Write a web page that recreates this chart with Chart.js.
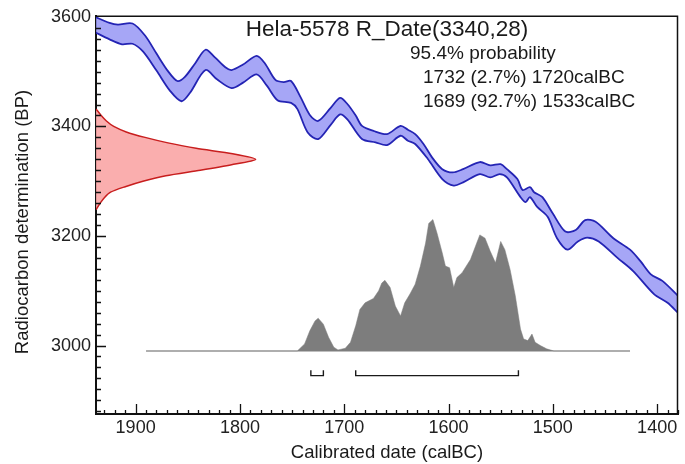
<!DOCTYPE html>
<html>
<head>
<meta charset="utf-8">
<script src="https://cdn.jsdelivr.net/npm/chart.js@4.4.1/dist/chart.umd.min.js"></script>
<style>
html, body { margin: 0; padding: 0; background: #fff; }
canvas { display: block; }
</style>
</head>
<body>
<canvas id="cal" width="685" height="464"></canvas>
<script>
// calibration curve, upper and lower edge of the 1 sigma band
const upperYears = [1940, 1925, 1917, 1903, 1891, 1880, 1869, 1860, 1853, 1843, 1833, 1824, 1814, 1808, 1797, 1784, 1776, 1766, 1758, 1751, 1742, 1733, 1725, 1713, 1704, 1697, 1689, 1683, 1672, 1659, 1646, 1639, 1632, 1624, 1616, 1606, 1596, 1586, 1570, 1560, 1550, 1544, 1534, 1529, 1522, 1518, 1510, 1500, 1488, 1478, 1469, 1459, 1442, 1426, 1416, 1406, 1395, 1379, 1374];
const upperBP = [3601, 3589, 3586, 3588, 3566, 3533, 3501, 3483, 3490, 3515, 3540, 3526, 3508, 3503, 3513, 3529, 3515, 3485, 3481, 3483, 3454, 3421, 3410, 3434, 3452, 3441, 3420, 3401, 3392, 3386, 3401, 3394, 3386, 3368, 3344, 3322, 3316, 3322, 3335, 3329, 3331, 3322, 3304, 3284, 3289, 3280, 3271, 3241, 3208, 3211, 3229, 3226, 3196, 3175, 3154, 3130, 3118, 3089, 3080];
const lowerYears = [1940, 1925, 1913, 1903, 1893, 1880, 1867, 1856, 1848, 1833, 1822, 1808, 1797, 1784, 1774, 1764, 1751, 1745, 1735, 1725, 1713, 1704, 1697, 1683, 1670, 1659, 1646, 1639, 1632, 1620, 1606, 1595, 1586, 1570, 1560, 1551, 1544, 1531, 1526, 1522, 1515, 1505, 1496, 1486, 1476, 1467, 1456, 1438, 1423, 1403, 1390, 1379, 1374];
const lowerBP = [3573, 3559, 3550, 3551, 3537, 3502, 3465, 3446, 3461, 3503, 3486, 3470, 3480, 3495, 3474, 3448, 3443, 3432, 3389, 3377, 3403, 3422, 3413, 3377, 3371, 3366, 3383, 3374, 3368, 3341, 3304, 3292, 3298, 3313, 3307, 3313, 3307, 3271, 3262, 3271, 3253, 3235, 3196, 3175, 3190, 3197, 3190, 3160, 3136, 3094, 3078, 3058, 3050];

// radiocarbon measurement 3340 +- 28 (drawn on the y axis)
const measBP = [3432, 3420, 3410, 3400, 3390, 3380, 3370, 3360, 3350, 3340, 3330, 3320, 3310, 3300, 3290, 3280, 3270, 3260, 3248];
const measYears = [1938, 1933, 1928, 1921, 1909, 1891, 1869, 1842, 1807, 1785, 1808, 1838, 1871, 1893, 1910, 1924, 1930, 1934, 1938];

// calibrated distribution
const distBase = 2990;
const distYears = [1890, 1745, 1738, 1733, 1728, 1725, 1720, 1715, 1710, 1706, 1699, 1694, 1689, 1685, 1680, 1672, 1667, 1664, 1661, 1656, 1651, 1646, 1642, 1637, 1632, 1627, 1622, 1619, 1615, 1611, 1606, 1603, 1599, 1595, 1592, 1587, 1579, 1573, 1570, 1565, 1560, 1555, 1550, 1546, 1541, 1536, 1531, 1528, 1524, 1520, 1517, 1512, 1506, 1499, 1426];
const distBP = [2990, 2990, 3003, 3027, 3045, 3050, 3039, 3015, 2997, 2992, 2995, 3006, 3036, 3066, 3078, 3086, 3100, 3114, 3119, 3106, 3072, 3054, 3078, 3094, 3112, 3145, 3187, 3223, 3230, 3205, 3169, 3145, 3142, 3106, 3124, 3133, 3157, 3187, 3202, 3196, 3172, 3151, 3190, 3175, 3139, 3091, 3030, 3012, 3009, 3021, 3006, 3000, 2994, 2990, 2990];

// 95.4% ranges
const rangeFrom = [1732, 1689];
const rangeTo = [1720, 1533];
const rangeBP = 2945;
const rangeTick = 2955;

const xTicks = [1900, 1800, 1700, 1600, 1500, 1400];
const yTicks = [3600, 3400, 3200, 3000];

const titleText = 'Hela-5578 R_Date(3340,28)';
const probLines = ['95.4% probability', '1732 (2.7%) 1720calBC', '1689 (92.7%) 1533calBC'];

const FONT = '"Liberation Sans", Arial, sans-serif';

function pts(xs, ys) {
    return xs.map((v, i) => ({x: v, y: ys[i]}));
}

const datasets = [
    {
        label: 'upper',
        data: pts(upperYears, upperBP),
        borderColor: '#2424b4',
        borderWidth: 1.8,
        tension: 0.3,
        fill: false
    },
    {
        label: 'lower',
        data: pts(lowerYears, lowerBP),
        borderColor: '#2424b4',
        borderWidth: 1.8,
        tension: 0.3,
        fill: '-1',
        backgroundColor: 'rgba(150,150,245,0.85)'
    },
    {
        label: 'R_Date',
        data: pts(measYears, measBP),
        borderColor: '#c81e1e',
        borderWidth: 1.5,
        tension: 0.25,
        fill: 'shape',
        backgroundColor: 'rgba(250,165,165,0.9)'
    },
    {
        label: 'dist',
        data: pts(distYears, distBP),
        borderColor: '#7d7d7d',
        borderWidth: 0.5,
        tension: 0,
        fill: {target: {value: distBase}},
        backgroundColor: '#7d7d7d'
    },
    {
        label: 'base',
        data: pts([distYears[0], distYears[distYears.length - 1]], [distBase, distBase]),
        borderColor: '#a8a8a8',
        borderWidth: 1.5,
        fill: false
    }
];

rangeFrom.forEach(function (from, i) {
    datasets.push({
        label: 'range' + i,
        data: pts([from, from, rangeTo[i], rangeTo[i]], [rangeTick, rangeBP, rangeBP, rangeTick]),
        borderColor: '#1a1a1a',
        borderWidth: 1.4,
        fill: false
    });
});

const oxcalFrame = {
    id: 'oxcalFrame',
    afterDatasetsDraw(chart) {
        const {ctx, chartArea: a} = chart;
        const x = chart.scales.x;
        const y = chart.scales.y;
        ctx.save();
        ctx.strokeStyle = '#111';
        ctx.lineWidth = 1.5;
        ctx.beginPath();
        ctx.moveTo(a.left, a.top + 0.5);
        ctx.lineTo(a.right - 0.5, a.top + 0.5);
        ctx.lineTo(a.right - 0.5, a.bottom);
        ctx.stroke();

        ctx.lineWidth = 1.3;
        ctx.beginPath();
        for (let yr = 1930; yr >= 1380; yr -= 10) {
            const px = Math.round(x.getPixelForValue(yr)) + 0.5;
            const len = yr % 100 === 0 ? 10 : 4;
            ctx.moveTo(px, a.bottom);
            ctx.lineTo(px, a.bottom - len);
        }
        for (let bp = 2880; bp <= 3580; bp += 20) {
            const py = Math.round(y.getPixelForValue(bp)) + 0.5;
            const len = bp % 200 === 0 ? 10 : 5;
            ctx.moveTo(a.left, py);
            ctx.lineTo(a.left + len, py);
        }
        ctx.stroke();
        ctx.restore();
    },
    afterDraw(chart) {
        const {ctx, chartArea: a} = chart;
        ctx.save();
        ctx.fillStyle = '#1a1a1a';
        ctx.textBaseline = 'alphabetic';

        ctx.font = '22.5px ' + FONT;
        ctx.textAlign = 'center';
        ctx.fillText(titleText, (a.left + a.right) / 2, 36);

        ctx.font = '19px ' + FONT;
        ctx.textAlign = 'left';
        ctx.fillText(probLines[0], 410, 58.5);
        ctx.fillText(probLines[1], 423, 82.5);
        ctx.fillText(probLines[2], 423, 107);

        // axis titles
        ctx.font = '18.5px ' + FONT;
        ctx.textAlign = 'center';
        ctx.fillText('Calibrated date (calBC)', (a.left + a.right) / 2, 458);

        ctx.translate(28, 222);
        ctx.rotate(-Math.PI / 2);
        ctx.fillText('Radiocarbon determination (BP)', 0, 0);
        ctx.restore();
    }
};

new Chart(document.getElementById('cal'), {
    type: 'line',
    data: {datasets: datasets},
    options: {
        responsive: false,
        animation: false,
        devicePixelRatio: 1,
        layout: {padding: {left: 0, top: 12, right: 7, bottom: 0}},
        elements: {point: {radius: 0, hoverRadius: 0}},
        plugins: {
            legend: {display: false},
            tooltip: {enabled: false}
        },
        scales: {
            x: {
                type: 'linear',
                min: 1380,
                max: 1938,
                reverse: true,
                grid: {display: false, drawTicks: false},
                border: {display: true, color: '#111', width: 2},
                ticks: {
                    autoSkip: false,
                    maxRotation: 0,
                    padding: 3,
                    color: '#222',
                    font: {family: FONT, size: 18},
                    callback: function (v) { return String(v); }
                },
                afterBuildTicks: function (s) { s.ticks = xTicks.map(v => ({value: v})); },
                afterFit: function (s) { s.height = 50; }
            },
            y: {
                type: 'linear',
                min: 2875,
                max: 3602,
                grid: {display: false, drawTicks: false},
                border: {display: true, color: '#111', width: 2},
                ticks: {
                    autoSkip: false,
                    padding: 5,
                    color: '#222',
                    font: {family: FONT, size: 18},
                    callback: function (v) { return String(v); }
                },
                afterBuildTicks: function (s) { s.ticks = yTicks.map(v => ({value: v})); },
                afterFit: function (s) { s.width = 96; }
            }
        }
    },
    plugins: [oxcalFrame]
});
</script>
</body>
</html>
